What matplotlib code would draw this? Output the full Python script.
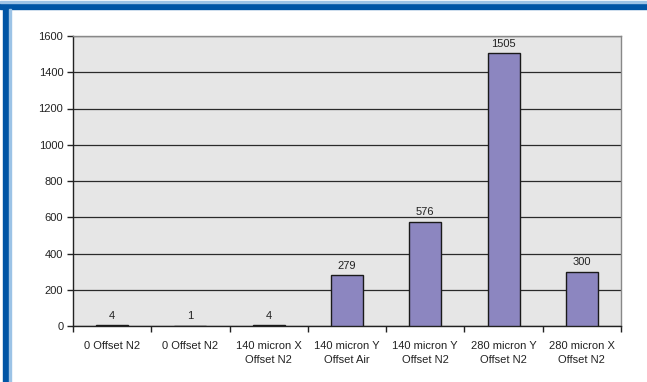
import matplotlib.pyplot as plt
from matplotlib.patches import Rectangle

categories = ["0 Offset N2", "0 Offset N2", "140 micron X\nOffset N2",
              "140 micron Y\nOffset Air", "140 micron Y\nOffset N2",
              "280 micron Y\nOffset N2", "280 micron X\nOffset N2"]
counts = [4, 1, 4, 279, 576, 1505, 300]
yticks = [0, 200, 400, 600, 800, 1000, 1200, 1400, 1600]

plt.rcParams['font.family'] = ['Liberation Sans', 'DejaVu Sans']

fig = plt.figure(figsize=(6.47, 3.82), dpi=100)

# blue frame on top and left
fig.patches.append(Rectangle((0, 1 - 9 / 382), 1, 6 / 382, transform=fig.transFigure,
                             color='#0055A5', zorder=0))
fig.patches.append(Rectangle((3 / 647, 0), 6 / 647, 1 - 3 / 382, transform=fig.transFigure,
                             color='#0055A5', zorder=0))
fig.patches.append(Rectangle((0, 1 - 3 / 382), 1, 1.5 / 382, transform=fig.transFigure,
                             color='#9CC3E6', zorder=0))
fig.patches.append(Rectangle((9 / 647, 0), 1.5 / 647, 1 - 9 / 382, transform=fig.transFigure,
                             color='#9CC3E6', zorder=0))

ax = fig.add_axes([73 / 647, 1 - 326 / 382, 548 / 647, 290 / 382])
ax.set_facecolor('#E6E6E6')

x = range(len(categories))
ax.bar(x, counts, width=0.41, color='#8C86C0', edgecolor='#1a1a1a', linewidth=1, zorder=3)
for i, v in enumerate(counts):
    ax.text(i, v + 24, str(v), ha='center', va='bottom', fontsize=8, color='#222222')

ax.set_xlim(-0.5, len(categories) - 0.5)
ax.set_ylim(0, 1600)
ax.set_yticks(yticks)
ax.set_yticklabels([str(t) for t in yticks], fontsize=8, color='#222222')
ax.yaxis.grid(True, color='#2a2a2a', linewidth=0.9, zorder=1)
ax.set_axisbelow(True)

# category labels centred, ticks on category boundaries
ax.set_xticks(list(x))
ax.set_xticklabels(categories, fontsize=8, color='#222222', linespacing=1.45)
ax.tick_params(axis='x', length=0, pad=11)
ax.set_xticks([i + 0.5 for i in range(-1, len(categories))], minor=True)
ax.tick_params(axis='x', which='minor', length=4, color='#222222', width=1)
ax.tick_params(axis='y', length=4, color='#222222', width=1, pad=3)

ax.spines['top'].set_color('#888888')
ax.spines['right'].set_color('#888888')
ax.spines['left'].set_color('#222222')
ax.spines['bottom'].set_color('#222222')
for s in ax.spines.values():
    s.set_linewidth(1)

fig.savefig('out.png', dpi=100)
